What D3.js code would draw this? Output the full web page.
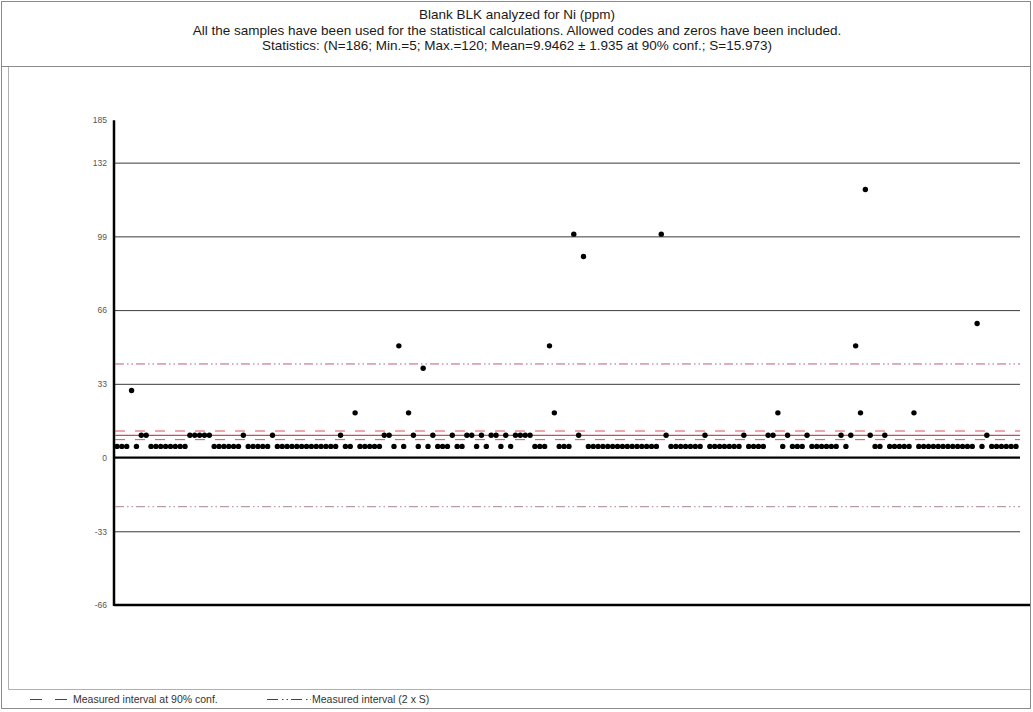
<!DOCTYPE html>
<html><head><meta charset="utf-8">
<script src="https://cdn.jsdelivr.net/npm/d3@7"></script>
<style>
html,body{margin:0;padding:0;background:#fff;}
svg{display:block;font-family:"Liberation Sans",Arial,sans-serif;}
</style></head>
<body><svg id="c" width="1033" height="712"></svg>
<script>
// ---------- data ----------
const titleLines = [
  "Blank BLK analyzed for Ni (ppm)",
  "All the samples have been used for the statistical calculations. Allowed codes and zeros have been included.",
  "Statistics: (N=186; Min.=5; Max.=120; Mean=9.9462 \u00B1 1.935 at 90% conf.; S=15.973)"
];
const values = [
  5,5,5,30,5,10,10,5,5,5,5,5,5,5,5,
  10,10,10,10,10,5,5,5,5,5,5,10,5,5,5,5,5,10,
  5,5,5,5,5,5,5,5,5,5,5,5,5,10,
  5,5,20,5,5,5,5,5,10,10,5,50,5,20,10,5,40,5,10,
  5,5,5,10,5,5,10,10,5,10,5,10,10,5,10,5,10,10,10,10,
  5,5,5,50,20,5,5,5,100,10,90,
  5,5,5,5,5,5,5,5,5,5,5,5,5,5,5,
  100,10,
  5,5,5,5,5,5,5,10,
  5,5,5,5,5,5,5,10,
  5,5,5,5,10,10,20,5,10,5,5,5,10,
  5,5,5,5,5,5,10,5,10,50,20,120,10,5,5,10,
  5,5,5,5,5,20,
  5,5,5,5,5,5,5,5,5,5,5,5,60,5,10,
  5,5,5,5,5,5
];
const mean = 9.9462;
const confHalf = 1.935;
const stdDev = 15.973;
const gridValues = [-33, 0, 33, 66, 99, 132];
const tickValues = [-66, -33, 0, 33, 66, 99, 132, 151];
const tickLabels = ["-66", "-33", "0", "33", "66", "99", "132", "185"];
const legendLabels = ["Measured interval at 90% conf.", "Measured interval (2 x S)"];

// ---------- drawing ----------
const svg = d3.select("#c");
const left = 114, right = 1020;

// frames
svg.append("rect").attr("x",1.5).attr("y",1.5).attr("width",1029).attr("height",707)
  .attr("fill","none").attr("stroke","#8a8a8a").attr("stroke-width",1);
svg.append("line").attr("x1",2).attr("x2",1030).attr("y1",66.5).attr("y2",66.5)
  .attr("stroke","#8a8a8a");
svg.append("path").attr("d","M8.5,67 V689.5 H1030")
  .attr("fill","none").attr("stroke","#b0b0b0");

// title
svg.selectAll("text.title").data(titleLines).join("text")
  .attr("class","title")
  .attr("x",517).attr("y",(d,i)=>[19,35,50][i])
  .attr("text-anchor","middle").attr("font-size",13.5).attr("fill","#1a1a1a")
  .text(d=>d);

const x = d3.scaleLinear().domain([0, values.length-1]).range([117, 1016]);
const y = d3.scaleLinear().domain([-66, 151]).range([605, 120.2]);

// gridlines
svg.append("g").attr("transform",`translate(${left},0)`)
  .call(d3.axisLeft(y).tickValues(gridValues).tickSize(-(right-left)).tickFormat(""))
  .call(g=>g.select(".domain").remove())
  .call(g=>g.selectAll("line").attr("stroke","#3a3a3a").attr("stroke-width",1));

// tick labels
svg.append("g").attr("transform",`translate(${left-4},0)`)
  .call(d3.axisLeft(y).tickValues(tickValues).tickSize(0).tickFormat((d,i)=>tickLabels[i]))
  .call(g=>g.select(".domain").remove())
  .call(g=>g.selectAll("text").attr("font-size",8.5).attr("fill","#555")
        .attr("font-family","Liberation Sans, Arial, sans-serif"));

// zero line
svg.append("line").attr("x1",left).attr("x2",right).attr("y1",y(0)).attr("y2",y(0))
  .attr("stroke","#000").attr("stroke-width",2);
// bottom axis line
svg.append("line").attr("x1",left).attr("x2",1030).attr("y1",y(-66)).attr("y2",y(-66))
  .attr("stroke","#000").attr("stroke-width",2.5);
// y axis line
svg.append("line").attr("x1",left).attr("x2",left).attr("y1",y(-66)+1).attr("y2",y(151))
  .attr("stroke","#000").attr("stroke-width",2.5);

// statistic lines
const statLines = [
  {v: mean + 2*stdDev, dash:"9,3,1.5,3,1.5,3", color:"#c25a7c", w:1},
  {v: mean - 2*stdDev, dash:"9,3,1.5,3,1.5,3", color:"#a88494", w:1},
  {v: mean + confHalf, dash:"10,10", color:"#d8505c", w:1},
  {v: mean - confHalf, dash:"10,10", color:"#d8505c", w:1},
  {v: mean, dash:null, color:"#d04a50", w:1.2}
];
svg.selectAll("line.stat").data(statLines).join("line")
  .attr("class","stat")
  .attr("x1",left+1).attr("x2",right)
  .attr("y1",d=>y(d.v)).attr("y2",d=>y(d.v))
  .attr("stroke",d=>d.color).attr("stroke-width",d=>d.w)
  .attr("stroke-dasharray",d=>d.dash);

// dots
svg.append("g").selectAll("circle").data(values).join("circle")
  .attr("cx",(d,i)=>x(i)).attr("cy",d=>y(d)).attr("r",2.7).attr("fill","#000");

// legend
const lg = svg.append("g");
lg.append("line").attr("x1",30).attr("x2",72).attr("y1",699.5).attr("y2",699.5)
  .attr("stroke","#444").attr("stroke-dasharray","12,13");
lg.append("text").attr("x",73).attr("y",703).attr("font-size",10.5).attr("fill","#333").text(legendLabels[0]);
lg.append("line").attr("x1",267).attr("x2",311).attr("y1",699.5).attr("y2",699.5)
  .attr("stroke","#444").attr("stroke-dasharray","11,4,1.5,3,1.5,3");
lg.append("text").attr("x",312).attr("y",703).attr("font-size",10.5).attr("fill","#333").text(legendLabels[1]);
</script>
</body></html>
